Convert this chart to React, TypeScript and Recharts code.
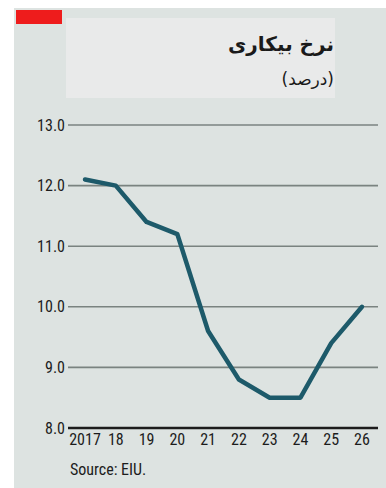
import React from "react";
import { LineChart, Line, XAxis, YAxis, CartesianGrid } from "recharts";

const years = ["2017", "18", "19", "20", "21", "22", "23", "24", "25", "26"];
const unemployment = [12.1, 12.0, 11.4, 11.2, 9.6, 8.8, 8.5, 8.5, 9.4, 10.0];
const yTicks = [8, 9, 10, 11, 12, 13];

const data = years.map((y, i) => ({ year: y, value: unemployment[i] }));

const FONT = "'Liberation Sans Narrow', 'Roboto Condensed', 'Arial Narrow', 'Liberation Sans', sans-serif";

export default function App() {
  return (
    <div style={{ position: "absolute", left: 0, top: 0, width: 386, height: 488, background: "#ffffff", overflow: "hidden" }}>
      <div style={{ position: "absolute", left: 14, top: 8, width: 372, height: 480, background: "#dde3e1" }} />
      <div style={{ position: "absolute", left: 16, top: 10, width: 46, height: 14, background: "#ee1c1c" }} />
      <div style={{ position: "absolute", left: 66, top: 18, width: 269, height: 80, background: "#e9eaea" }} />
      <div
        dir="rtl"
        style={{ position: "absolute", right: 386 - 334, top: 30, fontFamily: "'DejaVu Sans', sans-serif", fontWeight: 700, fontSize: 20, color: "#1a1a1a", lineHeight: "28px", whiteSpace: "nowrap", paddingLeft: 4 }}
      >
        نرخ بیکاری
      </div>
      <div
        dir="rtl"
        style={{ position: "absolute", right: 386 - 334, top: 66, fontFamily: "'DejaVu Sans', sans-serif", fontSize: 17, color: "#1a1a1a", lineHeight: "26px", whiteSpace: "nowrap", paddingLeft: 4 }}
      >
        (درصد)
      </div>
      <div style={{ position: "absolute", left: 0, top: 0 }}>
        <LineChart width={386} height={488} data={data} margin={{ top: 125, right: 8, bottom: 30, left: 0 }}>
          <CartesianGrid vertical={false} stroke="#7a8380" strokeWidth={1.6} horizontalValues={[9, 10, 11, 12, 13]} />
          <XAxis
            dataKey="year"
            type="category"
            padding={{ left: 17, right: 16 }}
            axisLine={{ stroke: "#1c1c1c", strokeWidth: 2.5 }}
            tickLine={false}
            tickSize={0}
            tickMargin={6}
            height={30}
            interval={0}
            tick={{ fill: "#1c1c1c", fontSize: 16, fontFamily: FONT }}
          />
          <YAxis
            domain={[8, 13]}
            ticks={yTicks}
            type="number"
            width={68}
            axisLine={false}
            tickLine={false}
            tickSize={0}
            tickMargin={3}
            tickFormatter={(v: number) => v.toFixed(1)}
            tick={{ fill: "#1c1c1c", fontSize: 16, fontFamily: FONT }}
          />
          <Line
            dataKey="value"
            type="linear"
            stroke="#1d5a6a"
            strokeWidth={4.5}
            dot={false}
            isAnimationActive={false}
            strokeLinejoin="round"
            strokeLinecap="round"
          />
        </LineChart>
      </div>
      <div style={{ position: "absolute", left: 70, top: 460, fontFamily: FONT, fontSize: 16, color: "#1c1c1c" }}>Source: EIU.</div>
    </div>
  );
}
